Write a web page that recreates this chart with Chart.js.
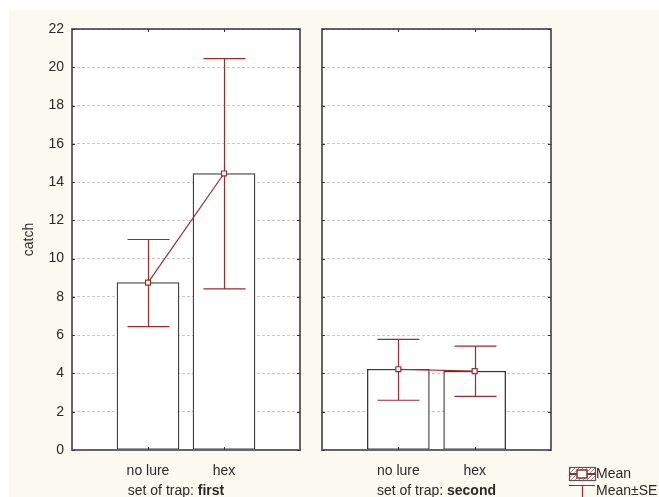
<!DOCTYPE html>
<html lang="en">
<head>
<meta charset="UTF-8">
<title>catch by set of trap</title>
<style>
  body { margin: 0; background: #fff; }
  .frame { position: absolute; left: 9px; top: 10px; width: 650px; height: 487px; background: #fcf9f0; }
  .panel { position: absolute; top: 0; }
  #panel1 { left: 0; }
  #panel2 { left: 310px; }
</style>
<script src="https://cdn.jsdelivr.net/npm/chart.js"></script>
</head>
<body>
<div class="frame"></div>
<div class="panel" id="panel1"><canvas id="c1" width="310" height="497"></canvas></div>
<div class="panel" id="panel2"><canvas id="c2" width="349" height="497"></canvas></div>
<script>
// data
const categories = ['no lure', 'hex'];
const firstMeans = [8.75, 14.45];
const firstLower = [6.45, 8.42];
const firstUpper = [11.0, 20.45];
const secondMeans = [4.22, 4.12];
const secondLower = [2.6, 2.8];
const secondUpper = [5.78, 5.43];
const yMax = 22;
const yStep = 2;

const FONT = 'Liberation Sans, Arial, sans-serif';
const TEXT = '#2a2a2a';
const RED = '#9c2b2b';

// pad the category axis with empty slots so the bars sit at 1/3 and 2/3
const labels = [''].concat(categories, ['']);
const pad = arr => [null].concat(arr, [null]);

const panelPlugin = {
    id: 'panel',
    beforeDraw(chart) {
        const a = chart.chartArea, ctx = chart.ctx;
        ctx.save();
        ctx.fillStyle = '#fff';
        ctx.fillRect(a.left, a.top, a.right - a.left, a.bottom - a.top);
        ctx.restore();
    },
    afterDatasetDraw(chart, args, opts) {
        // error bars go between the bars and the mean line
        if (args.index !== 0) return;
        const ctx = chart.ctx, x = chart.scales.x, y = chart.scales.y;
        ctx.save();
        ctx.strokeStyle = RED;
        ctx.lineWidth = 1.2;
        opts.lower.forEach((lo, i) => {
            const px = Math.round(x.getPixelForValue(i + 1)) + 0.5;
            const y1 = y.getPixelForValue(lo), y2 = y.getPixelForValue(opts.upper[i]);
            ctx.beginPath();
            ctx.moveTo(px, y1); ctx.lineTo(px, y2);
            ctx.moveTo(px - 21, y1); ctx.lineTo(px + 21, y1);
            ctx.moveTo(px - 21, y2); ctx.lineTo(px + 21, y2);
            ctx.stroke();
        });
        ctx.restore();
    },
    afterDraw(chart, args, opts) {
        const a = chart.chartArea, ctx = chart.ctx, x = chart.scales.x, y = chart.scales.y;
        ctx.save();
        // frame
        ctx.strokeStyle = '#333';
        ctx.lineWidth = 1.5;
        ctx.beginPath();
        ctx.moveTo(a.left, a.bottom); ctx.lineTo(a.left, a.top);
        ctx.lineTo(a.right, a.top); ctx.lineTo(a.right, a.bottom);
        ctx.stroke();
        ctx.strokeStyle = '#666';
        ctx.lineWidth = 2;
        ctx.beginPath();
        ctx.moveTo(a.left - 1, a.bottom); ctx.lineTo(a.right + 1, a.bottom);
        ctx.stroke();
        // inner tick marks
        ctx.strokeStyle = '#333';
        ctx.lineWidth = 1;
        ctx.beginPath();
        for (let v = 0; v <= yMax; v += yStep) {
            const py = Math.round(y.getPixelForValue(v)) + 0.5;
            ctx.moveTo(a.left, py); ctx.lineTo(a.left + 3, py);
            ctx.moveTo(a.right - 3, py); ctx.lineTo(a.right, py);
        }
        categories.forEach((c, i) => {
            const px = Math.round(x.getPixelForValue(i + 1)) + 0.5;
            ctx.moveTo(px, a.top); ctx.lineTo(px, a.top + 3);
            ctx.moveTo(px, a.bottom - 3); ctx.lineTo(px, a.bottom);
        });
        ctx.stroke();
        // x title: "set of trap: <b>name</b>"
        ctx.fillStyle = TEXT;
        ctx.textBaseline = 'middle';
        ctx.font = '14px ' + FONT;
        const t1 = 'set of trap: ';
        const w1 = ctx.measureText(t1).width;
        ctx.font = 'bold 14px ' + FONT;
        const w2 = ctx.measureText(opts.bold).width;
        const cx = (a.left + a.right) / 2 + opts.titleShift;
        const sx = cx - (w1 + w2) / 2;
        ctx.font = '14px ' + FONT;
        ctx.fillText(t1, sx, 491);
        ctx.font = 'bold 14px ' + FONT;
        ctx.fillText(opts.bold, sx + w1, 491);
        // legend
        if (opts.legend) {
            const lx = a.right + 18;
            ctx.fillStyle = '#fff';
            ctx.fillRect(lx, 467, 26, 13);
            ctx.save();
            ctx.beginPath();
            ctx.rect(lx, 467, 26, 13);
            ctx.clip();
            ctx.strokeStyle = '#999';
            ctx.lineWidth = 1;
            ctx.beginPath();
            for (let k = -14; k < 30; k += 4) {
                ctx.moveTo(lx + k, 480); ctx.lineTo(lx + k + 13, 467);
            }
            ctx.stroke();
            ctx.restore();
            ctx.strokeStyle = '#555';
            ctx.lineWidth = 1.2;
            ctx.strokeRect(lx + 0.5, 467.5, 26, 13);
            ctx.strokeStyle = RED;
            ctx.lineWidth = 2;
            ctx.beginPath();
            ctx.moveTo(lx, 474); ctx.lineTo(lx + 27, 474);
            ctx.stroke();
            ctx.fillStyle = '#fff';
            ctx.fillRect(lx + 8, 470, 10, 8);
            ctx.lineWidth = 1.5;
            ctx.strokeRect(lx + 8, 470, 10, 8);
            ctx.lineWidth = 1.2;
            ctx.beginPath();
            ctx.moveTo(lx, 485.5); ctx.lineTo(lx + 26, 485.5);
            ctx.moveTo(lx + 13.5, 485.5); ctx.lineTo(lx + 13.5, 497);
            ctx.stroke();
            ctx.fillStyle = TEXT;
            ctx.font = '14px ' + FONT;
            ctx.fillText('Mean', lx + 27, 474);
            ctx.fillText('Mean\u00b1SE', lx + 27, 491);
        }
        ctx.restore();
    }
};

function makePanel(id, means, lower, upper, bold, first) {
    return new Chart(document.getElementById(id), {
        type: 'bar',
        data: {
            labels: labels,
            datasets: [{
                type: 'bar',
                data: pad(means),
                backgroundColor: '#fff',
                borderColor: '#3a3a3a',
                borderWidth: 1.3,
                borderSkipped: false,
                barThickness: 62,
                order: 1
            }, {
                type: 'line',
                data: pad(means),
                borderColor: RED,
                borderWidth: 1.2,
                pointStyle: 'rect',
                pointRadius: 3.5,
                pointBorderWidth: 1.2,
                pointBackgroundColor: '#fff',
                pointBorderColor: RED,
                order: 0
            }]
        },
        options: {
            responsive: false,
            animation: false,
            layout: { padding: { top: 29, right: first ? 10 : 108, left: 0, bottom: 0 } },
            plugins: {
                legend: { display: false },
                tooltip: { enabled: false },
                panel: { lower: lower, upper: upper, bold: bold, titleShift: first ? -10 : 0, legend: !first }
            },
            scales: {
                x: {
                    offset: false,
                    grid: { display: false },
                    border: { display: false },
                    ticks: { color: TEXT, padding: 5, font: { size: 14, family: FONT }, autoSkip: false, maxRotation: 0 },
                    afterFit: s => { s.height = 47; }
                },
                y: {
                    min: 0,
                    max: yMax,
                    ticks: { display: first, stepSize: yStep, padding: 8, color: TEXT, font: { size: 14, family: FONT } },
                    grid: { color: '#c8c8c8', drawTicks: false },
                    border: { display: false, dash: [3, 2] },
                    title: { display: first, text: 'catch', color: TEXT, font: { size: 14, family: FONT }, padding: { top: 21, bottom: 0 } },
                    afterFit: s => { s.width = first ? 72 : 12; }
                }
            }
        },
        plugins: [panelPlugin]
    });
}

makePanel('c1', firstMeans, firstLower, firstUpper, 'first', true);
makePanel('c2', secondMeans, secondLower, secondUpper, 'second', false);
</script>
</body>
</html>
